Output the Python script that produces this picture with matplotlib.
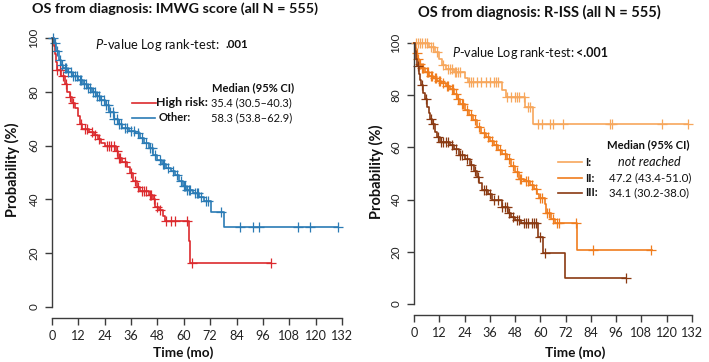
import numpy as np
import matplotlib
matplotlib.use("Agg")
import matplotlib.pyplot as plt
from matplotlib.lines import Line2D

FONT = 'Lato'
plt.rcParams['font.family'] = [FONT, 'DejaVu Sans']
plt.rcParams['mathtext.fontset'] = 'custom'
plt.rcParams['mathtext.it'] = FONT + ':italic'
plt.rcParams['mathtext.rm'] = FONT
plt.rcParams['mathtext.bf'] = FONT + ':bold'

# ---------------- data: left panel (IMWG score) ----------------
high_t = [0, 1, 1.5, 2, 2.5, 4, 6, 7, 8, 9, 10.5, 12, 12.7, 13.5, 17, 19, 21, 22.5, 24,
          29, 30, 32, 34, 35.5, 37, 38.5, 40, 44, 46, 47, 48.5, 50.5, 51.5, 62.3, 63, 99.5]
high_s = [100, 97, 94, 91, 88, 86, 83, 80, 78, 76, 74, 71, 68, 66, 65, 64, 62.5, 61, 60,
          58, 55.5, 54, 52, 50, 47, 44.5, 43, 41.5, 40, 37, 36, 34, 32, 24.5, 16.3, 16.3]
high_cens = [2.5, 3.5, 5, 6.5, 8.3, 9.5, 13, 15, 16, 18, 19.5, 21.5, 25, 26, 27, 28, 29.5,
             30.5, 31, 33, 36, 38, 39, 41, 42, 43, 44.5, 45, 46.5, 48, 49, 52, 54, 56,
             61.5, 63.5, 99.5]

other_t = [0, 1, 2, 3, 4, 5, 7, 9, 12, 14, 16, 18, 20, 22, 24, 26, 28, 30, 32, 35, 38, 40,
           42, 44, 46, 48, 50, 52, 54, 56, 58, 59.5, 61, 64, 67, 69, 72.5, 78.5, 130]
other_s = [100, 98, 95, 92, 90, 89, 87.5, 86, 84.5, 83, 81.5, 80, 78.5, 77, 75, 72.5, 70,
           68, 66.5, 65.5, 64.5, 63, 61, 59, 56.5, 54.5, 53, 51.5, 50.5, 49, 47, 45, 43.5,
           42.5, 41, 39.5, 35.3, 29.7, 29.7]
other_cens = [0.5, 1.5, 2.4, 3.6, 4.5, 5.7, 6.4, 7.5, 8.6, 9.4, 10.5, 11.3, 12.6, 13.4, 14.7,
              15.5, 16.6, 17.3, 18.5, 19.4, 20.6, 21.3, 22.5, 23.6, 24.4, 25.5, 26.3, 27.6,
              28.4, 29.5, 30.6, 31.4, 33, 34.2, 36, 37.1, 39, 40.8, 43, 44.6, 45.3, 47, 49,
              50.5, 51, 53, 55, 57, 58.5, 60, 60.6, 61.5, 62.5, 63, 65, 66, 66.6, 68, 70,
              71, 77, 85.6, 91.6, 94, 112, 117.5, 130]

# ---------------- data: right panel (R-ISS) ----------------
r1_t = [0, 7, 10, 12, 13.5, 15, 19, 24, 25.5, 42, 43.5, 52.7, 56.5, 130]
r1_s = [100, 98.5, 96.5, 94, 91.5, 90, 89, 86.5, 85, 82, 79.5, 75.5, 69, 69]
r1_cens = [1, 2, 3, 4, 5, 6, 8, 9, 11, 14, 16, 17, 18, 19.5, 20, 21, 22, 26, 27, 28, 30, 32,
           34, 36, 38, 39, 40, 44, 46, 48, 49, 50, 52, 54, 55, 59, 61, 64.5, 66, 70.8, 93,
           94, 117.8, 130]

r2_t = [0, 0.5, 1, 1.5, 2.5, 3.5, 5, 7, 9, 11, 13, 15, 17, 19, 20.5, 22, 24, 26, 28, 30,
        32, 34, 36, 38, 40, 42, 44, 46, 48, 50, 52, 55, 57, 58.5, 59.5, 62, 62.5, 65, 67,
        77.5, 113]
r2_s = [100, 98, 96, 94, 92, 90.5, 89, 87.5, 86.5, 85.5, 84.5, 83.5, 82.5, 80.5, 78.5,
        76.5, 74.5, 72.5, 70.5, 68, 65.5, 64, 62.5, 61, 59, 57.5, 55.5, 53, 50.5, 48, 47,
        45.5, 44, 42, 40.5, 38.5, 35, 32.5, 31, 20.7, 20.7]
r2_cens = [1.2, 2, 3, 4, 4.5, 6, 6.5, 8, 8.5, 10, 10.5, 12, 12.5, 14, 15.5, 16, 18, 18.5,
           20, 21, 23, 23.5, 25, 27, 29, 31, 33, 35, 37, 39, 41, 43, 45, 47, 49, 50.5, 51,
           53, 54, 56, 58, 60, 61, 63, 64, 66, 68, 69, 77, 85, 112.5]

r3_t = [0, 0.5, 1, 1.5, 2.5, 3, 3.5, 4.3, 5, 6, 7, 7.6, 8.5, 10, 11, 12.3, 17, 19, 21.5,
        24, 26.5, 28.5, 30, 31, 32.5, 35, 37, 41.8, 44.6, 46, 48, 51, 59, 61.3, 71.7, 100.5]
r3_s = [100, 97, 94, 91, 88, 86, 84, 81, 78.5, 75.5, 73, 71, 69, 66, 64, 62, 61, 59.5, 57,
        55.5, 53.3, 51, 48.5, 46.5, 43.7, 42, 39.8, 37.2, 34.8, 33.5, 32.2, 31, 25.7, 19.5,
        10, 10]
r3_cens = [2, 3.8, 5.5, 8, 9, 11.5, 13, 14, 15, 16, 18, 20, 22, 23, 25, 27, 29, 30.5, 33,
           34, 36, 38, 40, 42, 43, 44, 45, 47, 49, 50, 52, 53, 54, 56, 57, 58, 60, 62, 100.5]

x_ticks = [0, 12, 24, 36, 48, 60, 72, 84, 96, 108, 120, 132]
y_ticks = [0, 20, 40, 60, 80, 100]

C_RED = '#dc2a2e'
C_BLUE = '#2b7bb5'
C_I = '#f7a75c'
C_II = '#f07d1e'
C_III = '#8a3a12'
AX_COL = '#3c3c3c'
TXT = '#111111'

W, H = 709, 362
fig = plt.figure(figsize=(W / 100, H / 100), dpi=100)
renderer = fig.canvas.get_renderer()


def fx(px):
    return px / W


def fy(py):
    return 1 - py / H


def fit(t, target, use_height=False):
    for _ in range(3):
        bb = t.get_window_extent(renderer)
        cur = bb.height if use_height else bb.width
        if cur > 0:
            t.set_fontsize(t.get_fontsize() * target / cur)
    return t


def size_for(s, target, weight='normal'):
    t = fig.text(0, 0, s, fontsize=10, fontweight=weight)
    fit(t, target)
    fs = t.get_fontsize()
    t.remove()
    return fs


XT_FS = size_for('132', 22)
YT_FS = size_for('100', 20.5)


def make_axes(left, px_per_unit, y0px, y_per_unit, ylo):
    xlim = (0, 135)
    ylim = (ylo, 104)
    wpx = (xlim[1] - xlim[0]) * px_per_unit
    top = y0px - ylim[1] * y_per_unit
    bot = y0px - ylim[0] * y_per_unit
    ax = fig.add_axes([fx(left), fy(bot), wpx / W, (bot - top) / H])
    ax.set_xlim(*xlim)
    ax.set_ylim(*ylim)
    ax.patch.set_alpha(0)
    for s in ['top', 'right']:
        ax.spines[s].set_visible(False)
    for s in ['left', 'bottom']:
        ax.spines[s].set_color(AX_COL)
        ax.spines[s].set_linewidth(1.0)
    ax.spines['left'].set_bounds(0, 100)
    ax.spines['bottom'].set_bounds(0, 132)
    ax.set_xticks(x_ticks)
    ax.set_xticklabels([str(v) for v in x_ticks], fontsize=XT_FS, color='#222222')
    ax.set_yticks(y_ticks)
    ax.set_yticklabels([str(v) for v in y_ticks], rotation=90, va='center',
                       fontsize=YT_FS, color='#222222')
    ax.tick_params(axis='both', color=AX_COL, width=1.0, length=5)
    ax.tick_params(axis='x', pad=3.5)
    ax.tick_params(axis='y', pad=4)
    return ax


def km(ax, t, s, cens, color):
    t = np.asarray(t, float)
    s = np.asarray(s, float)
    ax.step(t, s, where='post', color=color, lw=1.2, clip_on=False)
    c = np.asarray(cens, float)
    idx = np.searchsorted(t, c, side='right') - 1
    ax.plot(c, s[idx], ls='none', marker='+', ms=7, mew=0.9, color=color, clip_on=False)


# ---------- left panel ----------
axL = make_axes(52, 290 / 132, 307, 2.69, -4.1)
km(axL, high_t, high_s, high_cens, C_RED)
km(axL, other_t, other_s, other_cens, C_BLUE)

# ---------- right panel ----------
axR = make_axes(414, 278 / 132, 304, 2.61, -4.2)
km(axR, r1_t, r1_s, r1_cens, C_I)
km(axR, r2_t, r2_s, r2_cens, C_II)
km(axR, r3_t, r3_s, r3_cens, C_III)


def txt(x, y, s, width=None, ha='left', weight='normal', style='normal', rot=0, fs=9):
    t = fig.text(fx(x), fy(y), s, ha=ha, va='center', fontsize=fs, fontweight=weight,
                 style=style, rotation=rot, color=TXT)
    if width is not None:
        fit(t, width, use_height=(rot == 90))
    return t


# titles
txt(175, 9, 'OS from diagnosis: IMWG score (all N = 555)', 287, ha='center', weight='bold')
txt(539, 12, 'OS from diagnosis: R-ISS (all N = 555)', 243, ha='center', weight='bold')

# axis labels
txt(12, 170, 'Probability (%)', 95, ha='center', weight='bold', rot=90)
txt(376, 172, 'Probability (%)', 95, ha='center', weight='bold', rot=90)
txt(183, 353, 'Time (mo)', 61, ha='center', weight='bold')
txt(575, 353, 'Time (mo)', 61, ha='center', weight='bold')

# p-values
txt(95, 45, r'$\mathit{P}$-value Log rank-test:', 124)
txt(226, 45, '.001', 23, weight='bold')
txt(452, 53, r'$\mathit{P}$-value Log rank-test:', 122)
txt(576, 53, '<.001', 32, weight='bold')

# left legend
med = txt(212, 88, 'Median (95% CI)', 82, weight='bold')
fig.add_artist(Line2D([fx(132), fx(156)], [fy(103), fy(103)], color=C_RED, lw=1.2))
fig.add_artist(Line2D([fx(132), fx(155)], [fy(118), fy(118)], color=C_BLUE, lw=1.2))
txt(156, 103, 'High risk:', 52, weight='bold')
txt(159, 118, 'Other:', fs=med.get_fontsize(), weight='bold')
txt(211, 103, '35.4 (30.5\u201340.3)', 81)
txt(211, 118, '58.3 (53.8\u201362.9)', 81)

# right legend
med2 = txt(607, 145, 'Median (95% CI)', 83, weight='bold')
for yy, col, lab in ((162, C_I, 'I:'), (178, C_II, 'II:'), (193, C_III, 'III:')):
    fig.add_artist(Line2D([fx(558), fx(582)], [fy(yy), fy(yy)], color=col, lw=1.2))
    txt(585, yy, lab, fs=med2.get_fontsize(), weight='bold')
txt(618, 162, 'not reached', 62, style='italic')
txt(609, 178, '47.2 (43.4-51.0)', 83)
txt(609, 193, '34.1 (30.2-38.0)', 81)

fig.savefig('out.png', dpi=100)
